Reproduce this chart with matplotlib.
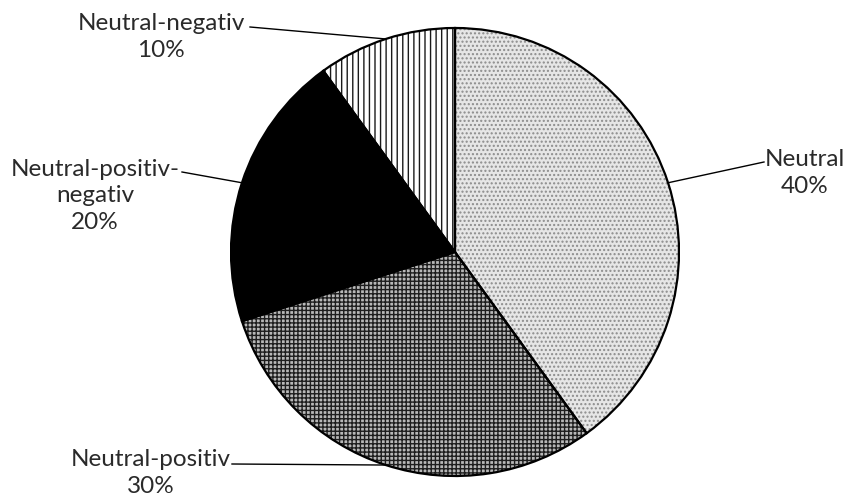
import numpy as np
import matplotlib
matplotlib.use('Agg')
import matplotlib.pyplot as plt

labels = ['Neutral', 'Neutral-positiv', 'Neutral-positiv-\nnegativ', 'Neutral-negativ']
values = [40, 30, 20, 10]
faces = ['#e6e6e6', '#b8b8b8', '#000000', '#ffffff']
hatch_colors = ['#8c8c8c', '#1e1e1e', '#000000', '#1a1a1a']
hatches = ['....', '++++', '', '|||']

# label text centres and leader-line ends, in pixels of the 848x499 picture
px = 224.0
cx, cy = 455, 252
text_pix = [(805, 173), (151, 473), (95, 196), (161, 37)]
line_end_pix = [(764, 162), (232, 464), (182, 172), (250, 27)]

fig = plt.figure(figsize=(8.48, 4.99), dpi=100)
ax = fig.add_axes([0, 0, 1, 1])

wedges, _ = ax.pie(values, startangle=90, counterclock=False, radius=1,
                   colors=faces, wedgeprops=dict(linewidth=0))
for w, h, hc in zip(wedges, hatches, hatch_colors):
    w.set_hatch(h)
    w.set_edgecolor(hc)
    w.set_linewidth(0)

# outlines on top
outl, _ = ax.pie(values, startangle=90, counterclock=False, radius=1,
                 wedgeprops=dict(fill=False, edgecolor='black', linewidth=1.6))

ax.set_aspect('auto')
ax.set_xlim(-cx / px, (848 - cx) / px)
ax.set_ylim(-(499 - cy) / px, cy / px)
ax.axis('off')

for w, lab, v, tp, lp in zip(wedges, labels, values, text_pix, line_end_pix):
    ang = np.deg2rad((w.theta1 + w.theta2) / 2)
    ex, ey = np.cos(ang), np.sin(ang)
    lx, ly = (lp[0] - cx) / px, (cy - lp[1]) / px
    ax.plot([lx, ex], [ly, ey], color='black', linewidth=1, zorder=0.5)
    tx, ty = (tp[0] - cx) / px, (cy - tp[1]) / px
    ax.text(tx, ty, f'{lab}\n{v}%', ha='center', va='center',
            fontsize=17.5, family='Lato', color='#2a2a2a', linespacing=1.32)

fig.savefig('out.png', dpi=100)
